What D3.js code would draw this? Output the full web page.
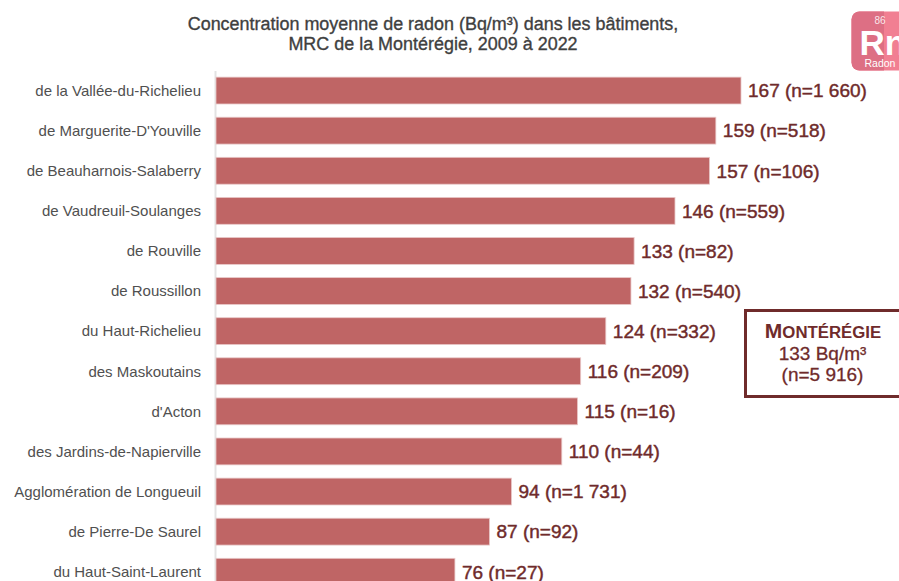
<!DOCTYPE html>
<html lang="fr"><head><meta charset="utf-8">
<script src="https://cdn.jsdelivr.net/npm/d3@7"></script>
<style>html,body{margin:0;padding:0;background:#fff;overflow:hidden}svg{display:block}text{font-family:"Liberation Sans",Arial,sans-serif}</style>
</head><body><svg id="c" width="899" height="581"></svg>
<script>
const categories=["de la Vallée-du-Richelieu","de Marguerite-D'Youville","de Beauharnois-Salaberry","de Vaudreuil-Soulanges","de Rouville","de Roussillon","du Haut-Richelieu","des Maskoutains","d'Acton","des Jardins-de-Napierville","Agglomération de Longueuil","de Pierre-De Saurel","du Haut-Saint-Laurent"];
const values=[167,159,157,146,133,132,124,116,115,110,94,87,76];
const counts=["1 660","518","106","559","82","540","332","209","16","44","1 731","92","27"];
const titleLines=["Concentration moyenne de radon (Bq/m³) dans les bâtiments,","MRC de la Montérégie, 2009 à 2022"];
const svg=d3.select("#c");
const x=d3.scaleLinear().domain([0,167]).range([216,741]);
const y=d3.scaleBand().domain(categories).range([70.5,591.8]).paddingInner(0.33).paddingOuter(0.165);
const axis=svg.append("g").attr("transform","translate(215,0)").call(d3.axisLeft(y).tickSize(0).tickPadding(14));
axis.select(".domain").attr("stroke","#e3e3e3").attr("stroke-width",2);
axis.selectAll("text").attr("font-size",15).attr("fill","#505050").attr("dy","0.35em");
svg.append("g").selectAll("rect").data(categories).join("rect")
 .attr("x",x(0)).attr("y",d=>y(d)).attr("width",(d,i)=>x(values[i])-x(0)).attr("height",y.bandwidth())
 .attr("fill","#bf6565").attr("stroke","#e9c9c9").attr("stroke-width",0.8);
svg.append("g").selectAll("text").data(categories).join("text")
 .attr("x",(d,i)=>x(values[i])+7).attr("y",d=>y(d)+y.bandwidth()/2).attr("dy","0.36em")
 .attr("font-size",19).attr("fill","#6f2b2b").attr("stroke","#6f2b2b").attr("stroke-width",0.45)
 .text((d,i)=>`${values[i]} (n=${counts[i]})`);
svg.append("g").selectAll("text").data(titleLines).join("text")
 .attr("x",433).attr("y",(d,i)=>29.5+i*20).attr("text-anchor","middle").attr("font-size",17.95)
 .attr("fill","#3f3f3f").attr("stroke","#3f3f3f").attr("stroke-width",0.35).text(d=>d);
// Encadré régional
svg.append("rect").attr("x",745.5).attr("y",310.5).attr("width",160).attr("height",86).attr("fill","#fff").attr("stroke","#6f2b2b").attr("stroke-width",3);
const box=svg.append("text").attr("text-anchor","middle").attr("fill","#6f2b2b");
const t1=box.append("tspan").attr("x",823).attr("y",338).attr("font-weight","bold");
t1.append("tspan").attr("font-size",21).text("M");
t1.append("tspan").attr("font-size",16.8).text("ONTÉRÉGIE");
box.append("tspan").attr("x",822.5).attr("y",360).attr("font-size",19).attr("stroke","#6f2b2b").attr("stroke-width",0.3).text("133 Bq/m³");
box.append("tspan").attr("x",822.5).attr("y",381).attr("font-size",19).attr("stroke","#6f2b2b").attr("stroke-width",0.3).text("(n=5 916)");
// Icône radon
const icon=svg.append("g");
icon.append("rect").attr("x",851.5).attr("y",11.5).attr("width",70).attr("height",59).attr("rx",8).attr("fill","#f17f92");
icon.append("path").attr("d","M859.5 11.5H884V70.5H859.5A8 8 0 0 1 851.5 62.5V19.5A8 8 0 0 1 859.5 11.5Z").attr("fill","#dd6f84");
icon.append("text").attr("x",880).attr("y",24).attr("text-anchor","middle").attr("font-size",10).attr("fill","#fff").attr("fill-opacity",.85).text("86");
icon.append("text").attr("x",859.5).attr("y",55).attr("font-size",35).attr("font-weight","bold").attr("fill","#fff").text("Rn");
icon.append("text").attr("x",880).attr("y",67).attr("text-anchor","middle").attr("font-size",10.5).attr("fill","#fff").text("Radon");
</script></body></html>
